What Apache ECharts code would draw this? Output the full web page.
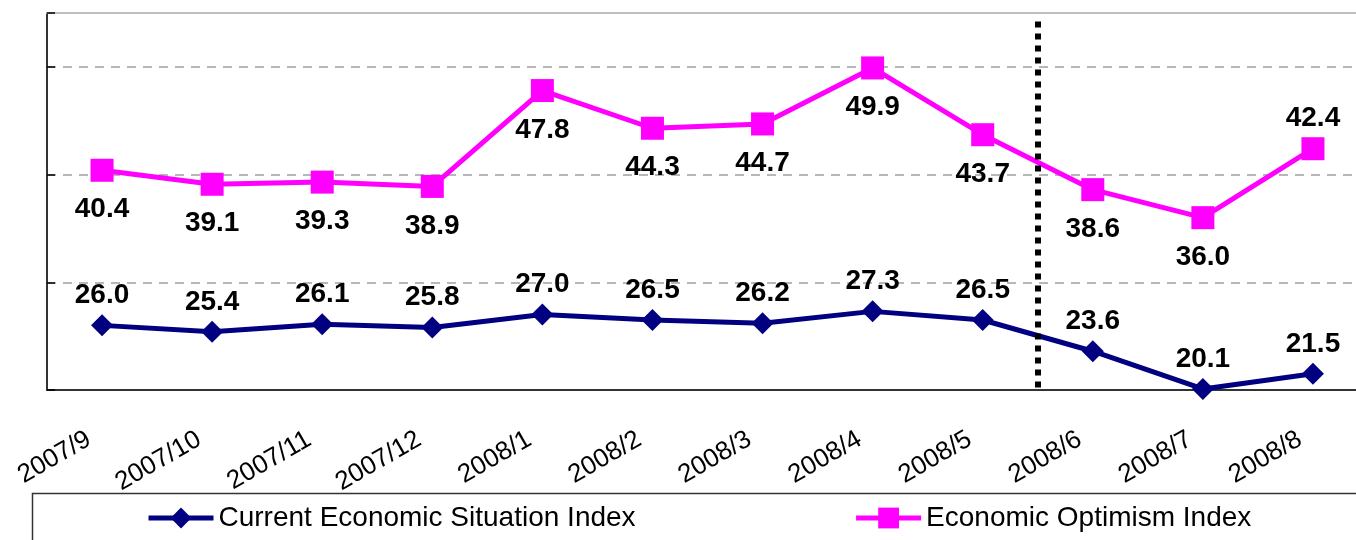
<!DOCTYPE html>
<html>
<head>
<meta charset="utf-8">
<script src="https://cdn.jsdelivr.net/npm/echarts@6/dist/echarts.min.js"></script>
<style>
  html, body { margin: 0; padding: 0; background: #fff; }
  #chart { width: 1356px; height: 540px; }
</style>
</head>
<body>
<div id="chart"></div>
<script>
// months on the x axis
var months = ["2007/9", "2007/10", "2007/11", "2007/12", "2008/1", "2008/2",
  "2008/3", "2008/4", "2008/5", "2008/6", "2008/7", "2008/8"];

var currentIndex = [26.0, 25.4, 26.1, 25.8, 27.0, 26.5, 26.2, 27.3, 26.5, 23.6, 20.1, 21.5];
var optimismIndex = [40.4, 39.1, 39.3, 38.9, 47.8, 44.3, 44.7, 49.9, 43.7, 38.6, 36.0, 42.4];

// the break sits between 2008/5 and 2008/6
var breakAfter = 9;

var font = "Liberation Sans, Arial, sans-serif";
var chart = echarts.init(document.getElementById("chart"));

var labelFmt = function (p) { return Number(p.value).toFixed(1); };

var optimismData = optimismIndex.map(function (v, i) {
  // last point has its label above
  if (i === optimismIndex.length - 1) {
    return { value: v, label: { position: "top", distance: 5 } };
  }
  return v;
});

var option = {
  animation: false,
  backgroundColor: "#fff",
  grid: { left: 47, top: 13, width: 1321, bottom: 150, outerBoundsMode: "none" },
  xAxis: [
    {
      type: "category",
      data: months,
      boundaryGap: true,
      axisLine: { lineStyle: { color: "#333", width: 2 } },
      axisTick: { inside: true, length: 8, lineStyle: { color: "#333", width: 1 } },
      axisLabel: {
        rotate: 30,
        margin: 40,
        padding: [0, 15, 0, 0],
        color: "#000",
        fontSize: 26,
        fontFamily: font,
        interval: 0
      }
    },
    {
      type: "value",
      position: "top",
      min: 0,
      max: 12,
      axisLine: { show: true, lineStyle: { color: "#c0c0c0", width: 2 } },
      axisTick: { show: false },
      axisLabel: { show: false },
      splitLine: { show: false }
    }
  ],
  yAxis: {
    type: "value",
    min: 20,
    max: 55,
    interval: 10,
    axisLine: { show: true, lineStyle: { color: "#333", width: 2 } },
    axisTick: { show: true, inside: true, length: 8, lineStyle: { color: "#000", width: 1.5 } },
    axisLabel: { show: false },
    splitLine: { show: true, lineStyle: { color: "#a0a0a0", width: 1.5, type: [9, 7] } }
  },
  legend: {
    data: ["Current Economic Situation Index", "Economic Optimism Index"],
    left: 141,
    top: 499,
    itemWidth: 65,
    itemHeight: 26,
    itemGap: 218,
    lineStyle: { width: 5 },
    textStyle: { color: "#000", fontSize: 28, fontFamily: font }
  },
  graphic: [
    {
      type: "rect",
      left: 30,
      top: 491,
      shape: { width: 1400, height: 80 },
      style: { fill: "none", stroke: "#333", lineWidth: 1.5 },
      silent: true
    }
  ],
  series: [
    {
      name: "Current Economic Situation Index",
      type: "line",
      data: currentIndex,
      symbol: "diamond",
      symbolSize: 22,
      lineStyle: { color: "#000080", width: 5 },
      itemStyle: { color: "#000080" },
      label: {
        show: true,
        position: "top",
        distance: 5,
        formatter: labelFmt,
        color: "#000",
        fontSize: 28,
        fontWeight: "bold",
        fontFamily: font
      }
    },
    {
      name: "Economic Optimism Index",
      type: "line",
      data: optimismData,
      symbol: "rect",
      symbolSize: 23,
      lineStyle: { color: "#ff00ff", width: 5 },
      itemStyle: { color: "#ff00ff" },
      label: {
        show: true,
        position: "bottom",
        distance: 14,
        formatter: labelFmt,
        color: "#000",
        fontSize: 28,
        fontWeight: "bold",
        fontFamily: font
      }
    },
    {
      // carrier for the dotted break line
      type: "line",
      xAxisIndex: 1,
      data: [],
      silent: true,
      markLine: {
        silent: true,
        symbol: "none",
        label: { show: false },
        lineStyle: { color: "#000", width: 6, type: [6, 6] },
        data: [[{ coord: [breakAfter, 54.2] }, { coord: [breakAfter, 20] }]]
      }
    }
  ]
};

chart.setOption(option);
</script>
</body>
</html>
